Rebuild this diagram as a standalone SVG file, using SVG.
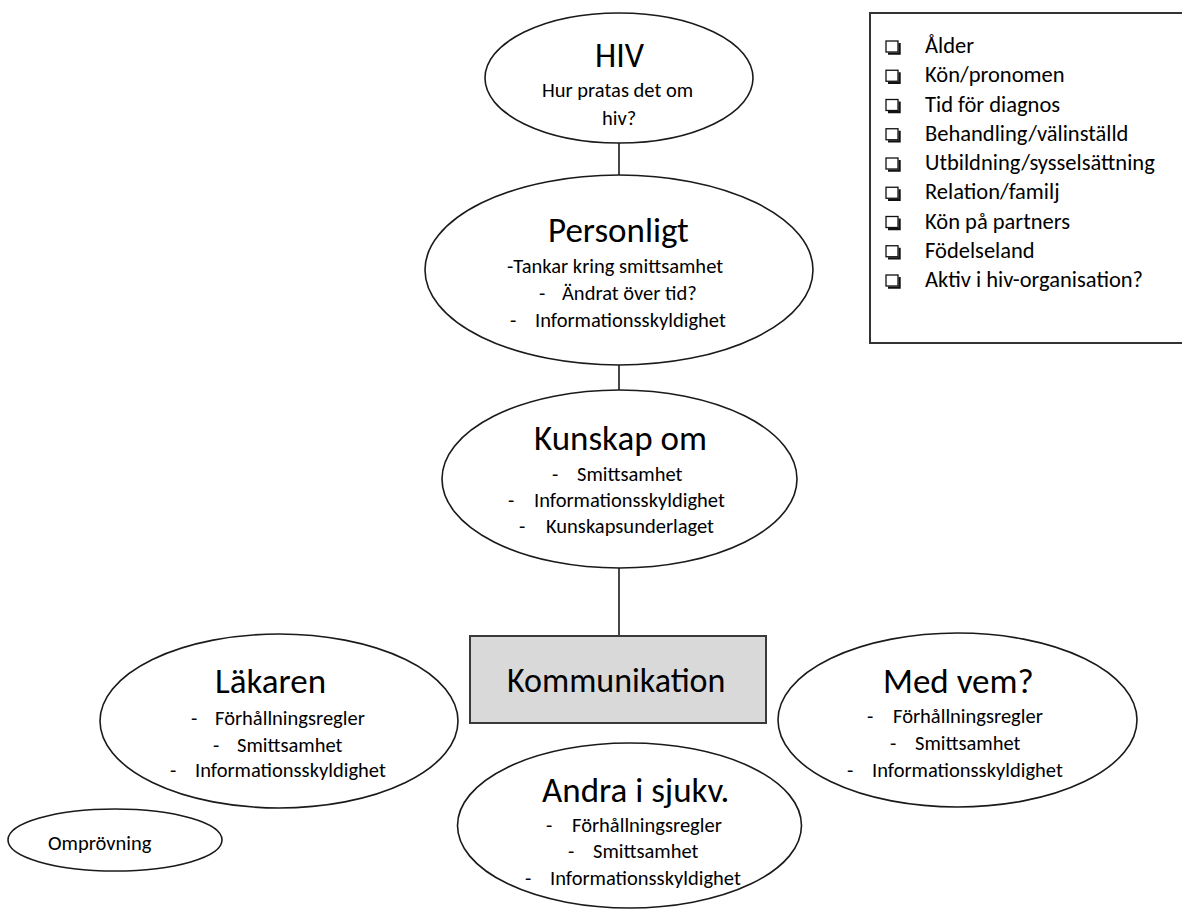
<svg xmlns="http://www.w3.org/2000/svg" width="1182" height="910" viewBox="0 0 1182 910">
<defs>
<style>
text{font-family:Carlito,"Lato","Liberation Sans",sans-serif;fill:#000}
.shape{fill:#fff;stroke:#1a1a1a;stroke-width:1.6}
.t{font-size:35px}
.s{font-size:20.5px}
.c{font-size:22.5px}
.conn line{stroke:#1a1a1a;stroke-width:1.6}
.cb{fill:#fff;stroke:#111;stroke-width:1.3}
.cbs{fill:none;stroke:#111;stroke-width:2.2}
</style>
<g id="box-sym">
<rect class="cb" x="0" y="-12" width="12" height="11"/>
<polyline class="cbs" points="2,0.6 13.6,0.6 13.6,-10"/>
</g>
</defs>
<rect width="1182" height="910" fill="#fff"/>

<g id="connectors" class="conn">
<line x1="619" y1="143" x2="619" y2="175"/>
<line x1="619" y1="365" x2="619" y2="390"/>
<line x1="619" y1="568" x2="619" y2="636"/>
</g>

<g id="hiv">
<ellipse class="shape" cx="619" cy="78" rx="134" ry="65"/>
<text class="t" x="595" y="67" style="font-size:34px">HIV</text>
<text class="s" x="542" y="97">Hur pratas det om</text>
<text class="s" x="602" y="125">hiv?</text>
</g>

<g id="personligt">
<ellipse class="shape" cx="619" cy="270" rx="194" ry="95"/>
<text class="t" x="548" y="242">Personligt</text>
<text class="s" x="507" y="273">-Tankar kring smittsamhet</text>
<text class="s" x="539" y="300">-</text><text class="s" x="562" y="300">Ändrat över tid?</text>
<text class="s" x="510" y="327">-</text><text class="s" x="535" y="327">Informationsskyldighet</text>
</g>

<g id="kunskap">
<ellipse class="shape" cx="619.5" cy="479" rx="177.5" ry="89"/>
<text class="t" x="534" y="450">Kunskap om</text>
<text class="s" x="552" y="481">-</text><text class="s" x="577" y="481">Smittsamhet</text>
<text class="s" x="508" y="507">-</text><text class="s" x="534" y="507">Informationsskyldighet</text>
<text class="s" x="519" y="533">-</text><text class="s" x="546" y="533">Kunskapsunderlaget</text>
</g>

<g id="kommunikation">
<rect x="470" y="636" width="296" height="87" fill="#d9d9d9" stroke="#3a3a3a" stroke-width="2"/>
<text x="507" y="692" style="font-size:34px">Kommunikation</text>
</g>

<g id="lakaren">
<ellipse class="shape" cx="279" cy="721" rx="179" ry="87"/>
<text class="t" x="215" y="693">Läkaren</text>
<text class="s" x="191" y="725">-</text><text class="s" x="215" y="725">Förhållningsregler</text>
<text class="s" x="213" y="752">-</text><text class="s" x="237" y="752">Smittsamhet</text>
<text class="s" x="170" y="777">-</text><text class="s" x="195" y="777">Informationsskyldighet</text>
</g>

<g id="omprovning">
<ellipse class="shape" cx="115" cy="840" rx="107" ry="31"/>
<text class="s" x="48" y="850">Omprövning</text>
</g>

<g id="andra">
<ellipse class="shape" cx="629.5" cy="825.5" rx="172" ry="82.5"/>
<text class="t" x="542" y="802">Andra i sjukv.</text>
<text class="s" x="546" y="832">-</text><text class="s" x="572" y="832">Förhållningsregler</text>
<text class="s" x="568" y="858">-</text><text class="s" x="593" y="858">Smittsamhet</text>
<text class="s" x="525" y="885">-</text><text class="s" x="550" y="885">Informationsskyldighet</text>
</g>

<g id="medvem">
<ellipse class="shape" cx="957.5" cy="720" rx="179.5" ry="87"/>
<text class="t" x="883" y="693">Med vem?</text>
<text class="s" x="867" y="723">-</text><text class="s" x="893" y="723">Förhållningsregler</text>
<text class="s" x="890" y="750">-</text><text class="s" x="915" y="750">Smittsamhet</text>
<text class="s" x="847" y="777">-</text><text class="s" x="872" y="777">Informationsskyldighet</text>
</g>

<g id="checklist">
<rect x="870" y="13" width="330" height="330" fill="#fff" stroke="#333" stroke-width="2"/>
<use href="#box-sym" x="886" y="53"/><text class="c" x="925" y="53">Ålder</text>
<use href="#box-sym" x="886" y="82.25"/><text class="c" x="925" y="82.25">Kön/pronomen</text>
<use href="#box-sym" x="886" y="111.5"/><text class="c" x="925" y="111.5">Tid för diagnos</text>
<use href="#box-sym" x="886" y="140.75"/><text class="c" x="925" y="140.75">Behandling/välinställd</text>
<use href="#box-sym" x="886" y="170"/><text class="c" x="925" y="170">Utbildning/sysselsättning</text>
<use href="#box-sym" x="886" y="199.25"/><text class="c" x="925" y="199.25">Relation/familj</text>
<use href="#box-sym" x="886" y="228.5"/><text class="c" x="925" y="228.5">Kön på partners</text>
<use href="#box-sym" x="886" y="257.75"/><text class="c" x="925" y="257.75">Födelseland</text>
<use href="#box-sym" x="886" y="287"/><text class="c" x="925" y="287">Aktiv i hiv-organisation?</text>
</g>
</svg>
